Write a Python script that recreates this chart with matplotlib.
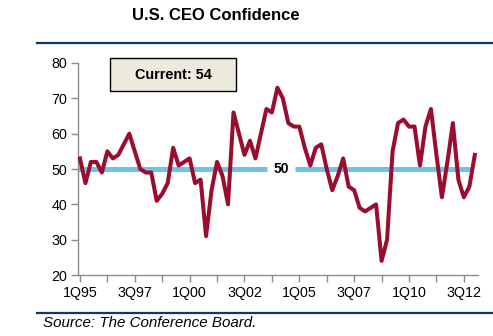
import matplotlib
matplotlib.use("Agg")
import matplotlib.pyplot as plt
from matplotlib.patches import Rectangle
import numpy as np

# quarterly CEO confidence index, 1Q95 .. 1Q13
confidence = [53, 46, 52, 52, 49, 55, 53, 54, 57, 60,
              55, 50, 49, 49, 41, 43, 46, 56, 51, 52,
              53, 46, 47, 31, 44, 52, 48, 40, 66, 60,
              54, 58, 53, 60, 67, 66, 73, 70, 63, 62,
              62, 56, 51, 56, 57, 50, 44, 48, 53, 45,
              44, 39, 38, 39, 40, 24, 30, 55, 63, 64,
              62, 62, 51, 62, 67, 54, 42, 52, 63, 47,
              42, 45, 54]
tick_labels = ["1Q95", "3Q97", "1Q00", "3Q02", "1Q05", "3Q07", "1Q10", "3Q12"]
neutral = 50
current = confidence[-1]

red = "#9B0D2E"
blue = "#6CC5E9"
navy = "#0B3A66"
grey = "#8C8C8C"

plt.rcParams['font.family'] = ['Liberation Sans', 'DejaVu Sans']

W, H = 493, 336
fig = plt.figure(figsize=(W / 100, H / 100), dpi=100)
ax = fig.add_axes([0.1588, 0.1815, 0.811, 0.631])

x = np.arange(len(confidence))

# neutral line at 50, broken around its label
ax.plot([-0.3, 34.1], [neutral, neutral], color=blue, lw=3.6, solid_capstyle='butt', zorder=2)
ax.plot([39.3, 71.4], [neutral, neutral], color=blue, lw=3.6, solid_capstyle='butt', zorder=2)
ax.text(36.7, neutral, str(neutral), ha='center', va='center', fontsize=10,
        fontweight='bold', color='black')

ax.plot(x, confidence, color=red, lw=2.9, solid_joinstyle='round', zorder=3)

ax.set_ylim(20, 80)
ax.set_yticks(range(20, 81, 10))
ax.set_xlim(-0.3, 72.6)
ticks = np.arange(0, 71, 5)
ax.set_xticks(ticks)
ax.set_xticklabels([tick_labels[i // 2] if i % 2 == 0 else "" for i in range(len(ticks))])

for s in ['top', 'right']:
    ax.spines[s].set_visible(False)
for s in ['left', 'bottom']:
    ax.spines[s].set_color(grey)
    ax.spines[s].set_linewidth(1.0)
ax.tick_params(axis='both', colors=grey, length=5, width=1.0, labelsize=10.3,
               labelcolor='black')
ax.tick_params(axis='y', pad=3)
ax.tick_params(axis='x', pad=3)

# "Current" box above the plot
fig.add_artist(Rectangle((110 / W, 1 - 91 / H), 126 / W, 33 / H, transform=fig.transFigure,
                         facecolor='#ECE9DD', edgecolor='black', lw=1.0))
fig.text(173 / W, 1 - 75 / H, "Current: %d" % current, ha='center', va='center',
         fontsize=10.4, fontweight='bold')

fig.text(216 / W, 1 - 15 / H, "U.S. CEO Confidence", ha='center', va='center',
         fontsize=12, fontweight='bold')

# rules above and below the chart
fig.add_artist(plt.Line2D([37 / W, 1], [1 - 42.7 / H] * 2, color=navy, lw=1.6))
fig.add_artist(plt.Line2D([37 / W, 1], [1 - 312.7 / H] * 2, color=navy, lw=1.6))

fig.text(43 / W, 1 - 323 / H, "Source: The Conference Board.", ha='left', va='center',
         fontsize=10.9, style='italic')

fig.savefig("out.png", dpi=100)
